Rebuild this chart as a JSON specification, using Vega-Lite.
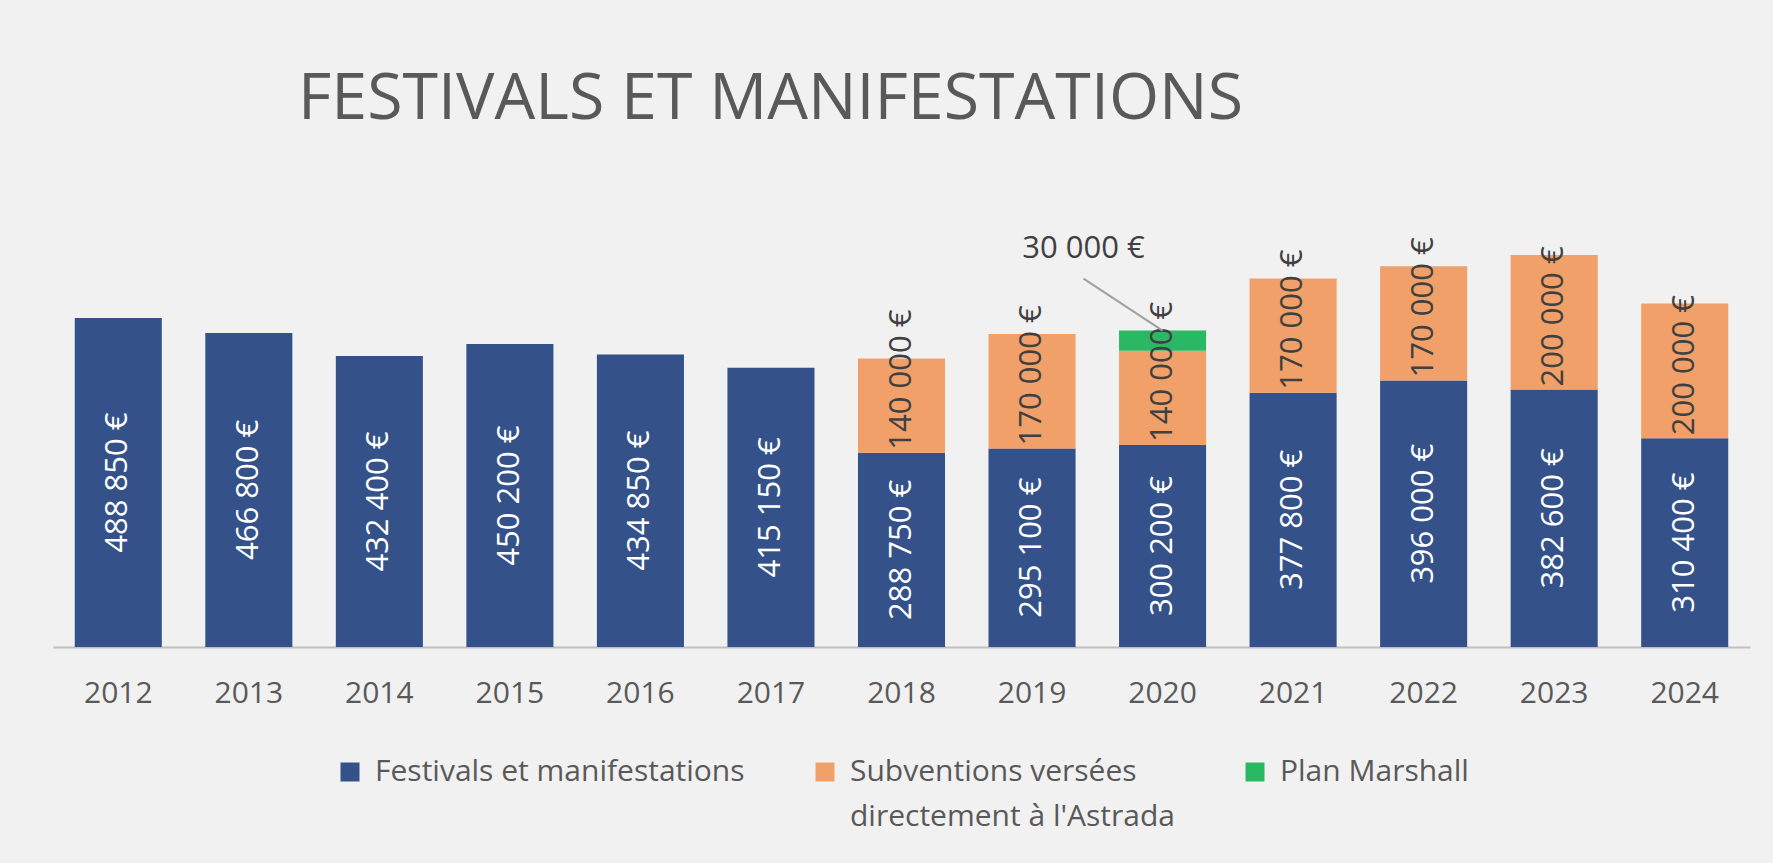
{
  "$schema": "https://vega.github.io/schema/vega-lite/v6.json",
  "width": 1697,
  "height": 471,
  "autosize": {"type": "none"},
  "padding": {"left": 53, "top": 176, "right": 23, "bottom": 216},
  "background": "#F1F1F1",
  "title": {
    "text": "FESTIVALS ET MANIFESTATIONS",
    "anchor": "start",
    "frame": "group",
    "dx": 245,
    "offset": 44,
    "font": "Open Sans",
    "fontSize": 64.5,
    "fontWeight": 400,
    "color": "#595959"
  },
  "data": {
    "values": [
      {"year": "2012", "series": "Festivals et manifestations", "value": 488850},
      {"year": "2013", "series": "Festivals et manifestations", "value": 466800},
      {"year": "2014", "series": "Festivals et manifestations", "value": 432400},
      {"year": "2015", "series": "Festivals et manifestations", "value": 450200},
      {"year": "2016", "series": "Festivals et manifestations", "value": 434850},
      {"year": "2017", "series": "Festivals et manifestations", "value": 415150},
      {"year": "2018", "series": "Festivals et manifestations", "value": 288750},
      {"year": "2019", "series": "Festivals et manifestations", "value": 295100},
      {"year": "2020", "series": "Festivals et manifestations", "value": 300200},
      {"year": "2021", "series": "Festivals et manifestations", "value": 377800},
      {"year": "2022", "series": "Festivals et manifestations", "value": 396000},
      {"year": "2023", "series": "Festivals et manifestations", "value": 382600},
      {"year": "2024", "series": "Festivals et manifestations", "value": 310400},
      {"year": "2018", "series": "Subventions versées directement à l'Astrada", "value": 140000},
      {"year": "2019", "series": "Subventions versées directement à l'Astrada", "value": 170000},
      {"year": "2020", "series": "Subventions versées directement à l'Astrada", "value": 140000},
      {"year": "2021", "series": "Subventions versées directement à l'Astrada", "value": 170000},
      {"year": "2022", "series": "Subventions versées directement à l'Astrada", "value": 170000},
      {"year": "2023", "series": "Subventions versées directement à l'Astrada", "value": 200000},
      {"year": "2024", "series": "Subventions versées directement à l'Astrada", "value": 200000},
      {"year": "2020", "series": "Plan Marshall", "value": 30000}
    ]
  },
  "transform": [
    {"calculate": "indexof(['Festivals et manifestations', 'Subventions versées directement à l\\'Astrada', 'Plan Marshall'], datum.series)", "as": "ord"},
    {"stack": "value", "groupby": ["year"], "sort": [{"field": "ord", "order": "ascending"}], "as": ["v0", "v1"]},
    {"calculate": "(datum.v0 + datum.v1) / 2", "as": "vmid"}
  ],
  "encoding": {
    "x": {
      "field": "year",
      "type": "ordinal",
      "scale": {"paddingInner": 0.333, "paddingOuter": 0.1667},
      "axis": {
        "title": null,
        "labelAngle": 0,
        "labelFont": "Open Sans",
        "labelFontSize": 30,
        "labelColor": "#595959",
        "labelPadding": 31,
        "labelBaseline": "top",
        "ticks": false,
        "tickSize": 0,
        "domainColor": "#BFBFBF",
        "domainWidth": 2,
        "grid": false
      }
    }
  },
  "layer": [
    {
      "mark": {"type": "bar"},
      "encoding": {
        "y": {"field": "v0", "type": "quantitative", "scale": {"domain": [0, 700000], "nice": false}, "axis": null},
        "y2": {"field": "v1"},
        "color": {
          "field": "series",
          "type": "nominal",
          "scale": {
            "domain": ["Festivals et manifestations", "Subventions versées directement à l'Astrada", "Plan Marshall"],
            "range": ["#345289", "#F0A068", "#2AB865"]
          },
          "legend": {
            "title": null,
            "orient": "bottom",
            "direction": "horizontal",
            "offset": 49,
            "symbolType": "square",
            "symbolSize": 361,
            "symbolStrokeWidth": 0,
            "labelFont": "Open Sans",
            "labelFontSize": 30,
            "labelColor": "#595959",
            "labelOffset": 10,
            "labelLimit": 600,
            "columnPadding": 65,
            "labelExpr": "datum.label == 'Subventions versées directement à l\\'Astrada' ? ['Subventions versées', 'directement à l\\'Astrada'] : [datum.label, ' ']"
          }
        }
      }
    },
    {
      "transform": [{"filter": "datum.ord == 0"}],
      "mark": {"type": "text", "angle": 270, "align": "center", "baseline": "middle", "font": "Open Sans", "fontSize": 31, "color": "#FFFFFF"},
      "encoding": {
        "y": {"field": "vmid", "type": "quantitative"},
        "text": {"field": "value", "type": "quantitative", "format": "$,.0f"}
      }
    },
    {
      "transform": [{"filter": "datum.ord == 1"}],
      "mark": {"type": "text", "angle": 270, "align": "left", "baseline": "middle", "dx": 3, "font": "Open Sans", "fontSize": 31, "color": "#404040"},
      "encoding": {
        "y": {"field": "v0", "type": "quantitative"},
        "text": {"field": "value", "type": "quantitative", "format": "$,.0f"}
      }
    },
    {
      "transform": [{"filter": "datum.ord == 2"}],
      "mark": {"type": "rule", "color": "#A0A0A0", "strokeWidth": 2, "xOffset": -79, "yOffset": -52, "x2Offset": 0, "y2Offset": 0},
      "encoding": {
        "x2": {"field": "year"},
        "y": {"field": "v1", "type": "quantitative"},
        "y2": {"field": "v1"}
      }
    },
    {
      "transform": [{"filter": "datum.ord == 2"}],
      "mark": {"type": "text", "align": "center", "baseline": "middle", "xOffset": -79, "yOffset": -82, "font": "Open Sans", "fontSize": 31, "color": "#404040"},
      "encoding": {
        "y": {"field": "v1", "type": "quantitative"},
        "text": {"field": "value", "type": "quantitative", "format": "$,.0f"}
      }
    }
  ],
  "config": {
    "locale": {"number": {"decimal": ",", "thousands": " ", "grouping": [3], "currency": ["", " €"]}},
    "view": {"stroke": null},
    "legend": {"layout": {"anchor": "middle"}},
    "style": {"guide-label": {"lineHeight": 45}}
  }
}
